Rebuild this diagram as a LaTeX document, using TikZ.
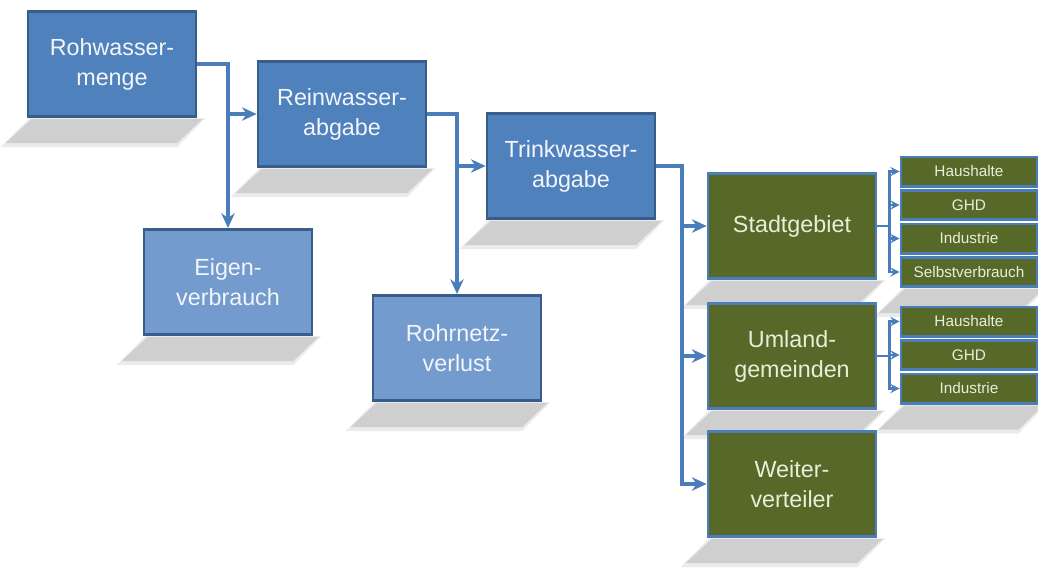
\documentclass[tikz,border=0pt]{standalone}
\usepackage{fontspec}
\setmainfont{Liberation Sans}
\usetikzlibrary{arrows.meta,calc,backgrounds}

\definecolor{boxblue}{HTML}{4F81BD}
\definecolor{boxlight}{HTML}{739BCD}
\definecolor{boxnavy}{HTML}{385D8A}
\definecolor{boxgreen}{HTML}{566929}
\definecolor{linkblue}{HTML}{4A7EBB}
\definecolor{greentext}{HTML}{E8EFD8}
\definecolor{bluetext}{HTML}{F2F5FA}

\tikzset{every picture/.style={line width=0.75pt},
  box/.style={rectangle, draw=boxnavy, line width=2pt, fill=boxblue, text=bluetext,
    minimum width=126pt, minimum height=79pt, inner sep=0pt, align=center,
    font=\fontsize{17.5}{22.5}\selectfont},
  lightbox/.style={box, fill=boxlight},
  greenbox/.style={box, draw=linkblue, fill=boxgreen, text=greentext},
  subbox/.style={greenbox, minimum width=102pt, minimum height=22pt,
    font=\fontsize{11.5}{13}\selectfont},
  flow/.style={draw=linkblue, line width=2.4pt, -{Stealth[length=11pt,width=10pt,inset=3.5pt]}},
  subflow/.style={draw=linkblue, line width=1.8pt, -{Stealth[length=7pt,width=7pt,inset=2.5pt]}},
  shadowfill/.style={fill=black!19},
  shadowedge/.style={fill=black!8}
}

\begin{document}
\begin{tikzpicture}[x=0.75pt,y=0.75pt,yscale=-1,xscale=1]
\useasboundingbox (0,0) rectangle (1038,568);

%Shape: Rectangle -- Aufbereitung
\node[box] (roh) at (112,64) {Rohwasser-\\menge};
\node[box] (rein) at (342,114) {Reinwasser-\\abgabe};
\node[box] (trink) at (571,166) {Trinkwasser-\\abgabe};

%Shape: Rectangle -- Verluste
\node[lightbox] (eigen) at (228,282) {Eigen-\\verbrauch};
\node[lightbox] (rohr) at (457,348) {Rohrnetz-\\verlust};

%Shape: Rectangle -- Abnehmer
\node[greenbox] (stadt) at (792,226) {Stadtgebiet};
\node[greenbox] (umland) at (792,356) {Umland-\\gemeinden};
\node[greenbox] (weiter) at (792,484) {Weiter-\\verteiler};

\foreach \name [count=\i] in {Haushalte,GHD,Industrie,Selbstverbrauch}
  \node[subbox] (s\i) at (969,171.5+33.5*\i-33.5) {\name};
\foreach \name [count=\i] in {Haushalte,GHD,Industrie}
  \node[subbox] (u\i) at (969,321.5+33.5*\i-33.5) {\name};

% shadows under the boxes
\begin{scope}[on background layer]
\foreach \n in {roh,rein,trink,eigen,rohr,stadt,umland,weiter,s4,u3} {
  \fill[shadowedge] ($(\n.south west)+(3,0)$) -- ($(\n.south east)+(8,0)$) -- ($(\n.south east)+(-20,29)$) -- ($(\n.south west)+(-26,29)$) -- cycle;
  \fill[shadowfill] ($(\n.south west)+(5,1)$) -- ($(\n.south east)+(5,1)$) -- ($(\n.south east)+(-20,25)$) -- ($(\n.south west)+(-21,25)$) -- cycle;
}
\end{scope}

%Straight Lines
\coordinate (tk) at (682,0);
\draw[flow] (roh.east) -| (eigen.north);
\draw[flow] (eigen.north |- rein.west) -- (rein.west);
\draw[flow] (rein.east) -| (rohr.north);
\draw[flow] (rohr.north |- trink.west) -- (trink.west);
\draw[flow] (trink.east) -| (tk |- weiter.west) -- (weiter.west);
\draw[flow] (tk |- stadt.west) -- (stadt.west);
\draw[flow] (tk |- umland.west) -- (umland.west);

\foreach \i in {1,...,4}
  \draw[subflow] (stadt.east) -- ++(12,0) |- (s\i.west);
\foreach \i in {1,...,3}
  \draw[subflow] (umland.east) -- ++(12,0) |- (u\i.west);
\end{tikzpicture}
\end{document}
